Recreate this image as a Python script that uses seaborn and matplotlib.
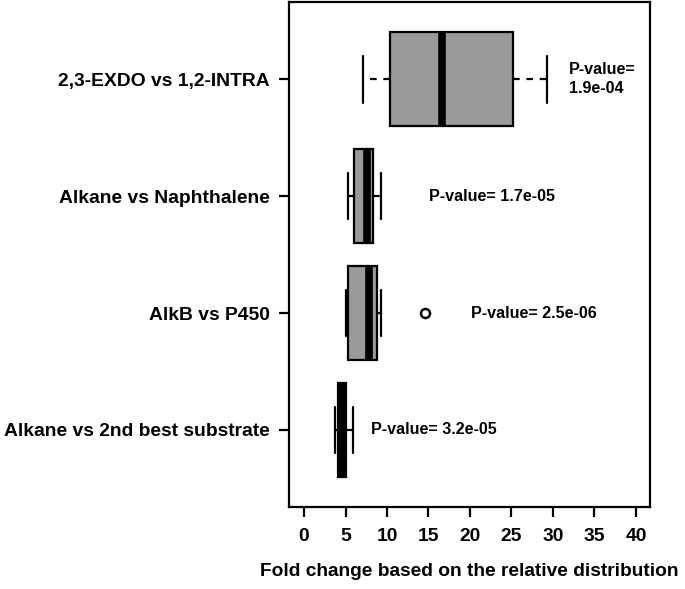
import matplotlib
matplotlib.use("Agg")
import matplotlib.pyplot as plt
import seaborn as sns

# comparisons, top to bottom
comparisons = [
    "2,3-EXDO vs 1,2-INTRA",
    "Alkane vs Naphthalene",
    "AlkB vs P450",
    "Alkane vs 2nd best substrate",
]
whisker_low = [7.15, 5.3, 5.1, 3.7]
q1 = [10.35, 6.05, 5.3, 4.1]
median = [16.6, 7.6, 7.8, 4.55]
q3 = [25.15, 8.35, 8.85, 5.0]
whisker_high = [29.3, 9.3, 9.25, 5.9]
outliers = [[], [], [14.6], []]
p_values = ["1.9e-04", "1.7e-05", "2.5e-06", "3.2e-05"]
x_ticks = [0, 5, 10, 15, 20, 25, 30, 35, 40]

sns.set_theme(style="ticks", rc={
    "text.color": "black",
    "axes.labelcolor": "black",
    "xtick.color": "black",
    "ytick.color": "black",
    "axes.edgecolor": "black",
})
plt.rcParams["font.family"] = ["Liberation Sans", "DejaVu Sans"]
plt.rcParams["font.weight"] = "bold"

fig = plt.figure(figsize=(6.85, 5.89), dpi=100)
ax = fig.add_axes([0.422, 0.139, 0.527, 0.8576])

stats = []
for i, name in enumerate(comparisons):
    stats.append({
        "label": name,
        "whislo": whisker_low[i],
        "q1": q1[i],
        "med": median[i],
        "q3": q3[i],
        "whishi": whisker_high[i],
        "fliers": outliers[i],
    })

ax.bxp(
    stats,
    positions=range(len(comparisons)),
    orientation="horizontal",
    widths=0.8,
    capwidths=0.4,
    patch_artist=True,
    boxprops=dict(facecolor="#9a9a9a", edgecolor="black", linewidth=1.6),
    medianprops=dict(color="black", linewidth=5.5, solid_capstyle="butt"),
    whiskerprops=dict(color="black", linewidth=1.6, linestyle=(0, (3, 3))),
    capprops=dict(color="black", linewidth=1.6),
    flierprops=dict(marker="o", markerfacecolor="white", markeredgecolor="black",
                    markeredgewidth=1.8, markersize=6.5),
)

ax.set_xlim(-1.8, 41.7)
ax.set_ylim(3.66, -0.66)
ax.set_xticks(x_ticks)
ax.set_yticks(range(len(comparisons)))
ax.set_yticklabels(comparisons)
ax.tick_params(axis="both", labelsize=13.9, length=7, width=1.6, pad=7, color="black")
ax.tick_params(axis="x", pad=8)
for lab in ax.get_xticklabels() + ax.get_yticklabels():
    lab.set_fontweight("bold")
for sp in ax.spines.values():
    sp.set_linewidth(1.6)
    sp.set_color("black")

ax.set_xlabel("Fold change based on the relative distribution",
              fontsize=13.8, fontweight="bold", labelpad=13)
ax.set_ylabel("")

# p-value annotations
label_x = [31.9, 15.1, 20.1, 8.05]
for i, p in enumerate(p_values):
    txt = f"P-value=\n{p}" if i == 0 else f"P-value= {p}"
    ax.text(label_x[i], i, txt, fontsize=11.6, fontweight="bold",
            ha="left", va="center", linespacing=1.3)

fig.savefig("out.png", dpi=100)
